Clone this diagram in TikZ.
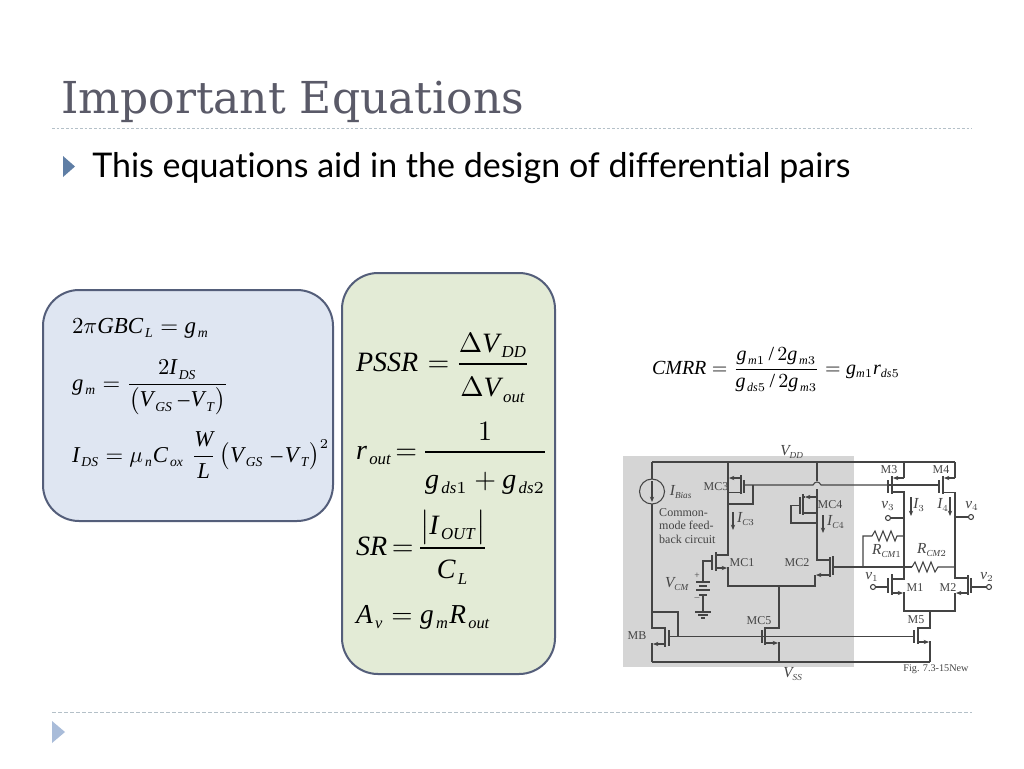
\documentclass[tikz,border=0pt]{standalone}
\usepackage{amsmath}
\usepackage{fontspec}
\setmainfont{Liberation Serif}
\usepackage[italic]{mathastext}
\DeclareMathSizes{10}{10}{6}{5}
\newfontfamily\titlefont{DejaVu Serif}
\newfontfamily\bodyfont[Ligatures=NoCommon]{Lato}
\usetikzlibrary{arrows.meta}
\newcommand{\sbx}[1]{_{\mkern2mu\raisebox{-0.5pt}{$\scriptstyle #1$}}}
\newcommand{\mns}{\mkern6mu{-}\mkern2mu}
\newcommand{\mnb}{\mkern4mu{-}\mkern1mu}
\definecolor{titlecol}{HTML}{5A5A68}
\definecolor{boxline}{HTML}{545E7A}
\definecolor{bluefill}{HTML}{DFE6F2}
\definecolor{greenfill}{HTML}{E3EBD6}
\definecolor{wirecol}{HTML}{444444}
\definecolor{greybg}{HTML}{D5D5D5}
\definecolor{rulecol}{HTML}{B4C0C8}
\definecolor{tri}{HTML}{5F7EA5}
\definecolor{tril}{HTML}{A9BCD9}
\tikzset{
  x=0.75pt,y=-0.75pt,
  eqbox/.style={draw=boxline,line width=1.5pt,rounded corners=27pt},
  eqn/.style={anchor=base west,inner sep=0pt,outer sep=0pt},
  wire/.style={draw=wirecol,line width=0.8pt},
  gatebar/.style={draw=wirecol,line width=1.1pt},
  tip/.style={wire,-{Stealth[length=4pt,width=3.2pt]}},
  clab/.style={inner sep=0pt,text=wirecol,scale=0.9},
  clabm/.style={inner sep=0pt,text=wirecol,scale=1.15},
}
\begin{document}
\begin{tikzpicture}
\useasboundingbox (0,0) rectangle (1024,768);
\fill[white] (0,0) rectangle (1024,768);
% title
\node[anchor=base west,inner sep=0pt,text=titlecol] (title) at (61,113) {\titlefont\fontsize{33}{36}\selectfont Important Equations};
\draw[rulecol,line width=0.75pt,dash pattern=on 2pt off 1.5pt] (52,128) -- (972,128);
\fill[tri] (63,156) -- (75,166.5) -- (63,177) -- cycle;
\node[anchor=base west,inner sep=0pt] (body) at (92,177) {\bodyfont\fontsize{25.5}{28}\selectfont This equations aid in the design of differential pairs};
\draw[rulecol,line width=0.75pt,dash pattern=on 3pt off 1.5pt] (52,712) -- (972,712);
\fill[tril] (52,721) -- (65,732) -- (52,743) -- cycle;
% boxes
\draw[eqbox,fill=bluefill] (43,290) rectangle (333,521);
\draw[eqbox,fill=greenfill] (342,273) rectangle (555,674);
% blue equations
\node[eqn,scale=1.72] (eqa) at (72,333) {$2\pi GBC\sbx{L}=g\sbx{m}$};
\node[eqn,scale=1.7] (eqb) at (72,390) {$g\sbx{m}=\dfrac{2I\sbx{DS}}{\bigl(V\sbx{GS}\mnb V\sbx{T}\bigr)}$};
\node[eqn,scale=1.7] (eqc) at (72,462) {$I\sbx{DS}=\mu\sbx{n}C\sbx{ox}\mkern6mu\dfrac{W}{\rule{0pt}{8.5pt}L}\mkern3mu\bigl(V\sbx{GS}\mns V\sbx{T}\bigr)^{2}$};
% green equations
\node[eqn,scale=2.1] (eqd) at (356,371) {$PSSR\mkern1mu=\mkern-1mu\dfrac{\Delta V\sbx{DD}}{\rule{0pt}{10.2pt}\Delta V\sbx{out}}$};
\node[eqn,scale=2.1] (eqe) at (356,459) {$r\sbx{out}\mkern-3mu=\mkern-2mu\dfrac{1}{\rule{0pt}{11.5pt}g\sbx{ds1}+g\sbx{ds2}}$};
\node[eqn,scale=2.1] (eqf) at (356,555) {$SR\mkern-2mu=\mkern-3mu\dfrac{\bigl|I\sbx{OUT}\bigr|}{\rule{0pt}{9.5pt}C\sbx{L}}$};
\node[eqn,scale=2.05] (eqg) at (356,623) {$A\sbx{v}=g\sbx{m}R\sbx{out}$};
% CMRR
\node[eqn,scale=1.5] (eqh) at (652,374) {$CMRR=\dfrac{g\sbx{m1}\,/\,2g\sbx{m3}}{g\sbx{ds5}\,/\,2g\sbx{m3}}=g_{m1}r_{ds5}$};
% circuit background
\fill[greybg] (623,456) rectangle (854,667);
% rails
\draw[wire] (652,462) -- (955,462);
\draw[wire] (652,662) -- (930,662);
% bias
\draw[wire] (652,462) -- (652,479);
\draw[wire] (652,491.5) circle[radius=12.5];
\draw[tip] (652,481) -- (652,502);
\draw[wire] (652,504) -- (652,628) -- (665,628);
% MB
\draw[wire] (652,612) -- (678,612) -- (678,636.5);
\draw[gatebar] (665,627) -- (665,647);
\draw[gatebar] (669,630) -- (669,646);
\draw[tip] (665,644) -- (653,644);
\draw[wire] (653,644) -- (652,644) -- (652,662);
% long gate line
\draw[wire] (669,636.5) -- (914,636.5);
% MC5
\draw[gatebar] (765,627) -- (765,645);
\draw[gatebar] (762,630) -- (762,643);
\draw[wire] (765,628) -- (779,628) -- (779,586);
\draw[tip] (765,643) -- (778,643);
\draw[wire] (778,643) -- (779,643) -- (779,662);
% MC3
\draw[wire] (728,462) -- (728,555) -- (716,555);
\draw[tip] (740,478) -- (729,478);
\draw[wire] (729,478) -- (728,478);
\draw[gatebar] (741,475) -- (741,494);
\draw[gatebar] (744,480) -- (744,493);
\draw[wire] (741,492.5) -- (728,492.5);
\draw[wire] (728,504) -- (753,504) -- (753,485);
\draw[wire] (744,485) -- (813,485) .. controls (815,481) and (819,481) .. (821,485) -- (888,485);
\draw[tip] (733,512) -- (733,530);
% MC1
\draw[gatebar] (716,552) -- (716,571);
\draw[gatebar] (712,555) -- (712,570);
\draw[wire] (712,561) -- (703,561) -- (703,582);
\draw[tip] (716,568) -- (727,568);
\draw[wire] (727,568) -- (728,568) -- (728,586) -- (815,586) -- (815,575);
\draw[tip] (829,575) -- (816,575);
% battery
\draw[wire] (696,582) -- (710,582);
\draw[wire] (699,586) -- (707,586);
\draw[wire] (696,590) -- (710,590);
\draw[wire] (699,595) -- (707,595);
\draw[wire] (703,595) -- (703,612);
\draw[wire] (695,612) -- (711,612);
\draw[wire] (698,615) -- (708,615);
\draw[wire] (701,618) -- (705,618);
% MC4
\draw[wire] (817,462) -- (817,481);
\draw[wire] (817,489) -- (817,560) -- (830,560);
\draw[tip] (817,497) -- (805,497);
\draw[gatebar] (803,494) -- (803,515);
\draw[gatebar] (800,497) -- (800,514);
\draw[wire] (803,497) -- (805,497);
\draw[wire] (803,513) -- (817,513);
\draw[wire] (800,505.5) -- (791,505.5) -- (791,523) -- (817,523);
\draw[tip] (823,515) -- (823,533);
% MC2
\draw[gatebar] (830,557) -- (830,577);
\draw[gatebar] (833,556) -- (833,575);
\draw[wire] (833,567) -- (912,567);
% RCM2
\draw[wire] (912,567) -- (915,562) -- (919,572) -- (923,562) -- (927,572) -- (931,562) -- (935,572) -- (938,567) -- (955,567);
% RCM1
\draw[wire] (863,567) -- (863,536) -- (872,536) -- (875,531) -- (879,541) -- (883,531) -- (887,541) -- (891,531) -- (895,541) -- (897,536) -- (904,536);
% M3
\draw[wire] (904,462) -- (904,478);
\draw[tip] (904,478) -- (893,478);
\draw[gatebar] (892,476) -- (892,494);
\draw[gatebar] (888,480) -- (888,493);
\draw[wire] (892,492) -- (904,492) -- (904,579) -- (892,579);
% M4
\draw[wire] (888,485) -- (938,485);
\draw[wire] (955,462) -- (955,478);
\draw[tip] (955,478) -- (944,478);
\draw[gatebar] (943,476) -- (943,494);
\draw[gatebar] (939,480) -- (939,493);
\draw[wire] (943,492.5) -- (955,492.5) -- (955,578) -- (968,578);
% M1
\draw[gatebar] (892,574) -- (892,595);
\draw[gatebar] (888,578) -- (888,593);
\draw[wire] (888,587) -- (875.5,587);
\draw[wire] (873,587) circle[radius=2.5];
\draw[tip] (892,593) -- (903,593);
\draw[wire] (903,593) -- (904,593) -- (904,611) -- (955,611) -- (955,593);
% M2
\draw[gatebar] (968,575) -- (968,595);
\draw[gatebar] (971,578) -- (971,593);
\draw[wire] (971,587) -- (986.5,587);
\draw[wire] (989,587) circle[radius=2.5];
\draw[tip] (968,593) -- (956,593);
% M5
\draw[wire] (930,611) -- (930,628) -- (918,628);
\draw[gatebar] (918,627) -- (918,644);
\draw[gatebar] (914,630) -- (914,643);
\draw[tip] (918,642) -- (929,642);
\draw[wire] (929,642) -- (930,642) -- (930,662);
% outputs
\draw[wire] (904,518) -- (890.5,518);
\draw[wire] (888,518) circle[radius=2.5];
\draw[wire] (955,517) -- (968.5,517);
\draw[wire] (971,517) circle[radius=2.5];
% current arrows
\draw[tip] (911,497) -- (911,516);
\draw[tip] (950,497) -- (950,516);
% circuit labels
\node[clabm] (lvdd) at (792,452) {$V_{DD}$};
\node[clabm] (lvss) at (793,674) {$V_{SS}$};
\node[clabm] (lbias) at (681,492) {$I_{Bias}$};
\node[clab,anchor=west,align=left,font=\linespread{0.95}\selectfont] (lcm) at (659,526) {Common-\\mode feed-\\back circuit};
\node[clab] (lmc3) at (716,487) {MC3};
\node[clabm] (lic3) at (746,519) {$I_{C3}$};
\node[clab] (lmc1) at (742,563) {MC1};
\node[clab] (lmc2) at (797,563) {MC2};
\node[clab] (lmc4) at (830,505) {MC4};
\node[clabm] (lic4) at (836,522) {$I_{C4}$};
\node[clabm] (lvcm) at (677,584) {$V_{CM}$};
\node[clab,scale=0.8] (lp) at (697,576) {+};
\node[clab,scale=0.8] (lm) at (697,599) {$-$};
\node[clab] (lmc5) at (759,621) {MC5};
\node[clab] (lmb) at (637,636) {MB};
\node[clab] (lm3) at (889,470) {M3};
\node[clab] (lm4) at (941,470) {M4};
\node[clab] (lm1) at (915,588) {M1};
\node[clab] (lm2) at (948,588) {M2};
\node[clab] (lm5) at (916,620) {M5};
\node[clabm] (li3) at (919,505) {$I_{3}$};
\node[clabm] (li4) at (943,505) {$I_{4}$};
\node[clabm] (lv3) at (888,506) {$v_{3}$};
\node[clabm] (lv4) at (972,506) {$v_{4}$};
\node[clabm] (lv1) at (872,577) {$v_{1}$};
\node[clabm] (lv2) at (987,577) {$v_{2}$};
\node[clabm] (lr1) at (887,551) {$R_{CM1}$};
\node[clabm] (lr2) at (932,550) {$R_{CM2}$};
\node[clab,scale=0.85] (lfig) at (936,669) {Fig. 7.3-15New};
\end{tikzpicture}
\end{document}
